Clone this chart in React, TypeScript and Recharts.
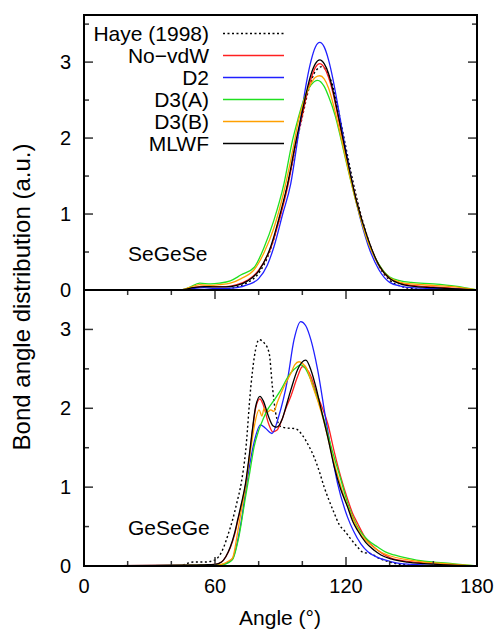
import React from "react";
import { LineChart, Line, XAxis, YAxis } from "recharts";

const FONT = '"Liberation Sans", Arial, Helvetica, sans-serif';

// Series labels and colours
const seriesNames = ["Haye (1998)", "No\u2212vdW", "D2", "D3(A)", "D3(B)", "MLWF"];
const seriesColors = ["#000000", "#ff2020", "#2020ff", "#20e020", "#ffa000", "#000000"];
const seriesDash = ["2 2.5", undefined, undefined, undefined, undefined, undefined];

const xTicks = [0, 20, 40, 60, 80, 100, 120, 140, 160, 180];
const yTicks = [0, 0.5, 1, 1.5, 2, 2.5, 3, 3.5];
const panelLabels = ["SeGeSe", "GeSeGe"];

// ---------- SeGeSe (top panel): [angle, value]
const topHaye = [[0,0],[60,0],[65,0.01],[70,0.04],[75,0.1],[80,0.22],[85,0.5],[90,1.0],[93,1.35],[97,1.9],[100,2.28],[103,2.65],[106,2.88],[109,2.94],[112,2.83],[114,2.68],[117,2.3],[120,1.87],[125,1.2],[130,0.68],[135,0.32],[140,0.13],[145,0.05],[150,0.02],[160,0],[180,0]];
const topNoVdw = [[0,0],[45,0.005],[50,0.03],[55,0.05],[60,0.045],[65,0.045],[70,0.07],[75,0.13],[80,0.26],[85.5,0.55],[90,0.98],[93.3,1.36],[97,1.92],[100,2.3],[102,2.57],[104,2.78],[106,2.93],[108,2.98],[110,2.93],[112,2.8],[114,2.6],[116,2.33],[120,1.78],[125,1.15],[130,0.67],[135,0.33],[140,0.15],[145,0.09],[150,0.06],[160,0.04],[170,0.02],[180,0]];
const topD2 = [[0,0],[45,0],[50,0.02],[55,0.03],[60,0.02],[65,0.02],[70,0.03],[75,0.07],[80,0.15],[84,0.33],[87,0.57],[91,1.0],[94.7,1.4],[97.8,1.97],[100,2.4],[102,2.75],[104,3.02],[106,3.2],[108,3.26],[110,3.2],[112,3.03],[114,2.78],[116,2.47],[120,1.82],[125,1.12],[130,0.6],[135,0.27],[140,0.1],[145,0.05],[150,0.03],[160,0.02],[170,0.01],[180,0]];
const topD3A = [[0,0],[45,0.005],[48,0.03],[53,0.09],[58,0.08],[62,0.09],[67,0.12],[72,0.2],[78,0.3],[82.6,0.57],[87,0.92],[91.6,1.4],[95.5,1.97],[98,2.25],[100,2.45],[102,2.6],[104,2.7],[107,2.76],[110,2.68],[112,2.55],[115,2.3],[118,1.95],[120,1.7],[125,1.12],[130,0.64],[135,0.34],[140,0.17],[145,0.12],[150,0.1],[160,0.08],[170,0.05],[180,0]];
const topD3B = [[0,0],[45,0.005],[48,0.03],[53,0.07],[58,0.06],[62,0.07],[67,0.09],[72,0.15],[78,0.27],[82.6,0.5],[87,0.82],[91.6,1.3],[96,1.9],[98,2.2],[100,2.42],[102,2.6],[104,2.72],[106,2.8],[108,2.82],[110,2.78],[112,2.66],[115,2.35],[118,1.98],[120,1.72],[125,1.12],[130,0.64],[135,0.33],[140,0.16],[145,0.1],[150,0.08],[160,0.06],[170,0.04],[180,0]];
const topMlwf = [[0,0],[45,0.005],[50,0.03],[55,0.045],[60,0.04],[65,0.04],[70,0.06],[75,0.12],[80,0.25],[85.5,0.57],[90,1.02],[93.3,1.4],[97,1.95],[100,2.35],[102,2.62],[104,2.84],[106,2.98],[108,3.03],[110,2.98],[112,2.85],[114,2.63],[116,2.36],[120,1.8],[125,1.15],[130,0.68],[135,0.33],[140,0.15],[145,0.08],[150,0.05],[160,0.03],[170,0.015],[180,0]];

// ---------- GeSeGe (bottom panel): [angle, value]
const botHaye = [[0,0],[44,0],[47,0.03],[50,0.05],[55,0.05],[59.5,0.07],[62,0.13],[64,0.24],[66,0.4],[68,0.58],[70,0.8],[72,1.05],[74,1.45],[76.4,2.27],[78,2.65],[80.2,2.87],[82.5,2.83],[84.8,2.7],[86.3,2.27],[87.8,1.94],[90,1.77],[93,1.75],[97,1.74],[100,1.66],[103,1.52],[105.4,1.38],[108,1.18],[110,1.0],[112,0.85],[114.6,0.67],[117,0.52],[119.2,0.45],[122,0.35],[125.3,0.24],[128,0.17],[131,0.16],[135,0.1],[140,0.05],[150,0.01],[160,0],[180,0]];
const botNoVdw = [[0,0],[50,0.01],[60,0.02],[63,0.05],[65,0.12],[67,0.23],[69,0.4],[70.5,0.58],[72,0.76],[74,1.03],[75.6,1.35],[77,1.68],[78.6,2.0],[80.6,2.12],[82,2.05],[84.6,1.8],[86.5,1.7],[88.3,1.72],[90.6,1.85],[92.5,2.0],[94.7,2.15],[97.8,2.4],[100.1,2.53],[102,2.5],[104,2.4],[106.2,2.22],[108.5,2.05],[111.6,1.81],[114.6,1.45],[117.6,1.13],[120.7,0.85],[123,0.67],[125.3,0.54],[129,0.35],[134.5,0.2],[140.6,0.1],[148,0.06],[155.8,0.04],[165,0.02],[180,0]];
const botD2 = [[0,0],[60,0.01],[64,0.02],[66,0.05],[68,0.09],[71,0.41],[72.5,0.65],[74,0.95],[76,1.3],[78,1.58],[80.8,1.79],[83,1.75],[86.1,1.68],[89.1,1.89],[93.2,2.36],[96.2,2.87],[99.3,3.1],[101.5,3.05],[103.9,2.87],[107,2.49],[110.8,1.85],[113.5,1.42],[116.1,1.05],[120.7,0.62],[123.5,0.44],[126.8,0.28],[130,0.18],[134.5,0.11],[140,0.06],[145.2,0.03],[155,0.015],[180,0]];
const botD3A = [[0,0],[60,0.01],[64,0.02],[66,0.04],[68,0.08],[71,0.38],[74,0.88],[76,1.2],[77.9,1.51],[80,1.72],[82,1.86],[84,1.98],[87,2.1],[90.1,2.23],[93.9,2.42],[97.8,2.53],[99.3,2.55],[101.5,2.5],[103.9,2.36],[107,2.12],[110,1.85],[113.5,1.48],[117.6,1.1],[120.7,0.8],[123.5,0.6],[126.8,0.43],[130,0.33],[134.5,0.24],[138,0.18],[142,0.14],[148,0.1],[155.8,0.06],[165,0.04],[172,0.02],[180,0]];
const botD3B = [[0,0],[60,0.01],[64,0.03],[66,0.06],[68,0.1],[70.5,0.45],[72,0.7],[74,1.0],[75.6,1.34],[77,1.6],[78,1.77],[80.2,1.98],[81.5,1.9],[82.5,2.0],[84,1.95],[85.5,1.98],[87,1.96],[88.6,2.08],[91.5,2.27],[94.7,2.44],[96.5,2.55],[98.5,2.59],[100,2.57],[102.3,2.49],[104.5,2.3],[107,2.1],[110,1.82],[113.5,1.42],[117,1.07],[120.7,0.76],[123.5,0.58],[126.8,0.4],[130,0.3],[134.5,0.2],[140,0.13],[148,0.08],[155.8,0.05],[165,0.03],[180,0]];
const botMlwf = [[0,0],[50,0.01],[55,0.015],[60,0.02],[63,0.05],[65,0.12],[67,0.24],[69,0.42],[70.5,0.6],[72,0.78],[74,1.05],[75.6,1.38],[77,1.7],[78.6,2.02],[80.6,2.15],[82,2.1],[84.6,1.89],[86.5,1.78],[88.3,1.76],[90.6,1.85],[92.5,2.02],[94.7,2.23],[97.8,2.49],[101.6,2.61],[104,2.48],[106.2,2.27],[108.5,2.0],[111.6,1.64],[114.6,1.26],[117.5,0.98],[120.7,0.75],[123,0.57],[125.3,0.45],[129,0.3],[132.9,0.2],[136,0.14],[140.6,0.09],[148,0.05],[155.8,0.03],[165,0.015],[180,0]];

const topSeries = [topHaye, topNoVdw, topD2, topD3A, topD3B, topMlwf];
const botSeries = [botHaye, botNoVdw, botD2, botD3A, botD3B, botMlwf];

const toRows = (pairs: number[][]) => pairs.map(([x, y]) => ({ x, y }));

// layout constants (pixels)
const W = 498;
const H = 631;
const PL = 84;   // plot left
const PR = 477;  // plot right
const T1 = 15;   // top panel top
const B1 = 290;  // top panel bottom / bottom panel top
const B2 = 566;  // bottom panel bottom
const BOT_OFF = B1 - 10; // top of the bottom chart's box

const FRAME_COLOR = "#000000";
const TICK_COLOR = "#333333";

// y ticks: drawn at the left/right frame, y from the axis scale
const makeYTick = () => (props: any) => {
  const { y, payload } = props;
  const v = payload.value;
  const major = Number.isInteger(v);
  const len = major ? 9 : 5;
  return (
    <g>
      <line x1={PL} x2={PL + len} y1={y} y2={y} stroke={TICK_COLOR} strokeWidth={1.5} />
      <line x1={PR} x2={PR - len} y1={y} y2={y} stroke={TICK_COLOR} strokeWidth={1.5} />
      {major && (
        <text x={PL - 13} y={y + 7} textAnchor="end" fontSize={20} fontFamily={FONT} fill="#000">
          {v}
        </text>
      )}
    </g>
  );
};

// x ticks: drawn inward at the bottom panel's top and bottom edges
const makeXTick = (top: number, bottom: number) => (props: any) => {
  const { x, payload } = props;
  const v = payload.value;
  const major = v % 60 === 0;
  const len = major ? 9 : 5;
  return (
    <g>
      <line x1={x} x2={x} y1={bottom} y2={bottom - len} stroke={TICK_COLOR} strokeWidth={1.5} />
      <line x1={x} x2={x} y1={top} y2={top + len} stroke={TICK_COLOR} strokeWidth={1.5} />
      {major && (
        <text x={x} y={bottom + 27} textAnchor="middle" fontSize={20} fontFamily={FONT} fill="#000">
          {v}
        </text>
      )}
    </g>
  );
};

const renderLines = (series: number[][][]) =>
  series.map((s, i) => (
    <Line
      key={seriesNames[i]}
      data={toRows(s)}
      dataKey="y"
      type="monotone"
      stroke={seriesColors[i]}
      strokeWidth={seriesDash[i] ? 1.4 : 1.3}
      strokeDasharray={seriesDash[i]}
      dot={false}
      activeDot={false}
      isAnimationActive={false}
    />
  ));

const frameSegments = [
  [PL, T1, PR, T1],
  [PL, B1, PR, B1],
  [PL, B2, PR, B2],
  [PL, T1, PL, B2],
  [PR, T1, PR, B2],
];

export default function App() {
  return (
    <div style={{ position: "absolute", left: 0, top: 0, width: W, height: H, background: "#fff" }}>
      <div style={{ position: "absolute", left: 0, top: 0 }}>
        <LineChart width={W} height={B1 + 10} margin={{ top: T1, right: W - PR, bottom: 0, left: 0 }}>
          <XAxis type="number" dataKey="x" domain={[0, 180]} ticks={[0, 180]} height={10} tick={false} tickLine={false} axisLine={false} />
          <YAxis type="number" domain={[0, 3.62]} ticks={yTicks} interval={0} width={PL} tick={makeYTick()} tickLine={false} axisLine={false} />
          {renderLines(topSeries)}
        </LineChart>
      </div>
      <div style={{ position: "absolute", left: 0, top: BOT_OFF }}>
        <LineChart width={W} height={H - BOT_OFF} margin={{ top: B1 - BOT_OFF, right: W - PR, bottom: 0, left: 0 }}>
          <XAxis type="number" dataKey="x" domain={[0, 180]} ticks={xTicks} interval={0} height={H - B2} tick={makeXTick(B1 - BOT_OFF, B2 - BOT_OFF)} tickLine={false} axisLine={false} />
          <YAxis type="number" domain={[0, 3.5]} ticks={yTicks} interval={0} width={PL} tick={makeYTick()} tickLine={false} axisLine={false} />
          {renderLines(botSeries)}
        </LineChart>
      </div>
      <svg width={W} height={H} style={{ position: "absolute", left: 0, top: 0, pointerEvents: "none" }}>
        {frameSegments.map(([x1, y1, x2, y2], i) => (
          <line key={"fr" + i} x1={x1} y1={y1} x2={x2} y2={y2} stroke={FRAME_COLOR} strokeWidth={2} strokeLinecap="square" />
        ))}
        <text transform="translate(30,297) rotate(-90)" textAnchor="middle" fontSize={24} fontFamily={FONT} fill="#000">
          Bond angle distribution (a.u.)
        </text>
        <text x={280} y={625} textAnchor="middle" fontSize={21} fontFamily={FONT} fill="#000">
          Angle (°)
        </text>
        <text x={128} y={261} fontSize={21} fontFamily={FONT} fill="#000">{panelLabels[0]}</text>
        <text x={128} y={535} fontSize={21} fontFamily={FONT} fill="#000">{panelLabels[1]}</text>
        {seriesNames.map((n, i) => {
          const yy = 33.5 + i * 22;
          return (
            <g key={n}>
              <text x={209} y={yy + 7.3} textAnchor="end" fontSize={21} fontFamily={FONT} fill="#000">{n}</text>
              <line x1={223} x2={284} y1={yy} y2={yy} stroke={seriesColors[i]} strokeWidth={seriesDash[i] ? 1.4 : 1.3} strokeDasharray={seriesDash[i]} />
            </g>
          );
        })}
      </svg>
    </div>
  );
}
